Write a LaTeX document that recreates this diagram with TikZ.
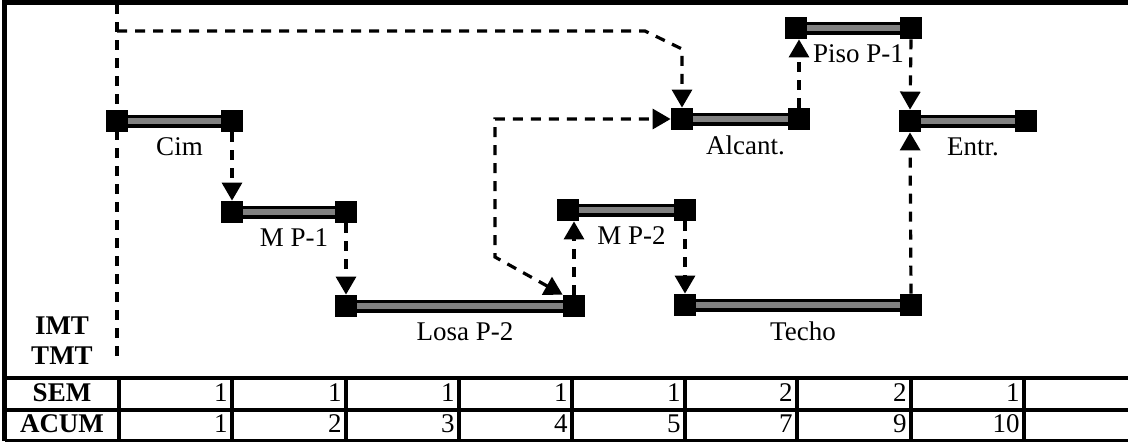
\documentclass[tikz,border=0pt]{standalone}
\usepackage{fontspec}
\setmainfont{Liberation Serif}
\usepackage{tikz}
\usetikzlibrary{arrows.meta,positioning,calc}

\begin{document}
\begin{tikzpicture}[
  x=0.5pt, y=-0.5pt,
  every node/.style={font=\fontsize{13.5}{16}\selectfont},
  punta/.tip={Triangle[width=10pt,length=9pt]},
  hito/.style={fill=black, minimum size=11pt, inner sep=0pt},
  barra/.style={line width=6.5pt},
  relleno/.style={line width=3pt, black!50},
  trazo/.style={line width=1.6pt, dash pattern=on 5pt off 4pt},
  dep/.style={trazo, -punta},
  etiqueta/.style={below=5pt, xshift=2.5pt, inner sep=0pt},
  rejilla/.style={line width=2.25pt},
  celda/.style={anchor=east, inner sep=0pt},
  titulo/.style={font=\fontsize{13.5}{16}\selectfont\bfseries}
]
\useasboundingbox (0,0) rectangle (1128,441);

% Frame and table
\draw[line width=2.5pt] (4.5,441) -- (4.5,2) -- (1128,2);
\draw[rejilla] (4.5,378) -- (1128,378);
\draw[rejilla] (4.5,410) -- (1128,410);
\draw[rejilla] (4.5,441) -- (1128,441);
\foreach \x in {119,232,346,459,572,685,797,911,1024}
  \draw[rejilla] (\x,378) -- (\x,441);

\node[titulo] (imt) at (62,326) {IMT};
\node[titulo] (tmt) at (62,356) {TMT};
\node[titulo] (sem) at (62,393) {SEM};
\node[titulo] (acum) at (62,424) {ACUM};
\foreach \x/\s/\a [count=\i] in {232/1/1, 346/1/2, 459/1/3, 572/1/4, 685/1/5, 797/2/7, 911/2/9, 1024/1/10}{
  \node[celda] (sem\i) at (\x-4,393) {\s};
  \node[celda] (acum\i) at (\x-4,424) {\a};
}

% Start line
\coordinate (ini) at (117,4);
\coordinate (fin) at (117,362);
\draw[trazo] (ini) -- (fin);

% Activities
\node[hito] (cimA) at (117,121) {};
\node[hito] (cimB) at (232,121) {};
\node[hito] (mp1A) at (232,212) {};
\node[hito] (mp1B) at (346,212) {};
\node[hito] (losaA) at (346,306) {};
\node[hito] (losaB) at (574,306) {};
\node[hito] (mp2A) at (568,210) {};
\node[hito] (mp2B) at (685,210) {};
\node[hito] (techoA) at (685,305) {};
\node[hito] (techoB) at (911,305) {};
\node[hito] (alcA) at (682,119) {};
\node[hito] (alcB) at (799,119) {};
\node[hito] (pisoA) at (796,28) {};
\node[hito] (pisoB) at (911,28) {};
\node[hito] (entrA) at (910,121) {};
\node[hito] (entrB) at (1026,121) {};

\foreach \a/\b/\txt in {cimA/cimB/Cim, mp1A/mp1B/M P-1, losaA/losaB/Losa P-2,
    mp2A/mp2B/M P-2, techoA/techoB/Techo, alcA/alcB/Alcant.,
    pisoA/pisoB/Piso P-1, entrA/entrB/Entr.}{
  \draw[barra] (\a.east) -- node[etiqueta] {\txt} (\b.west);
  \draw[relleno] (\a.east) -- (\b.west);
}

% Dependencies
\draw[dep] (117,31) -- (645,31) -- (682,49) -- (alcA.north);
\draw[trazo, punta-punta] (losaB.north west) -- (495,257) |- (alcA.west);
\draw[dep] (cimB.south) -- (mp1A.north);
\draw[dep] (mp1B.south) -- (losaA.north);
\draw[dep] (losaB.north) -- (losaB.north |- mp2A.south);
\draw[dep] (mp2B.south) -- (techoA.north);
\draw[dep] (techoB.north) -- (entrA.south);
\draw[dep] (alcB.north) -- (alcB.north |- pisoA.south);
\draw[dep] (pisoB.south) -- (entrA.north);

\end{tikzpicture}
\end{document}
